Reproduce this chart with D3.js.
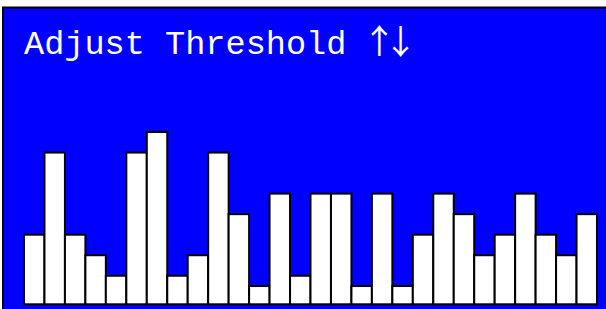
<!DOCTYPE html>
<html>
<head>
<meta charset="utf-8">
<script src="https://cdn.jsdelivr.net/npm/d3@7"></script>
<style>
  html, body { margin: 0; padding: 0; background: #fff; overflow: hidden; }
  svg { display: block; }
</style>
</head>
<body>
<script>
const titleWords = "Adjust Threshold ";
const titleArrows = "↑↓";
const categories = d3.range(1, 29).map(String);
const values = [4, 8, 4, 3, 2, 8, 9, 2, 3, 8, 5, 1.5, 6, 2, 6, 6, 1.5, 6, 1.5, 4, 6, 5, 3, 4, 6, 4, 3, 5];

const W = 606, H = 309;
const svg = d3.select("body").append("svg").attr("width", W).attr("height", H);

svg.append("rect")
  .attr("x", 3).attr("y", 7.5)
  .attr("width", 640).attr("height", 340)
  .attr("fill", "#0000ff")
  .attr("stroke", "#000").attr("stroke-width", 2);

const title = svg.append("text")
  .attr("x", 24).attr("y", 54)
  .attr("fill", "#fff")
  .attr("font-family", "'Courier New', Courier, 'Liberation Mono', monospace")
  .attr("font-size", 33.6);
title.append("tspan").text(titleWords);
title.append("tspan")
  .attr("font-family", "'Noto Sans CJK SC', 'DejaVu Sans', sans-serif")
  .attr("dx", -4)
  .attr("letter-spacing", -12.3)
  .text(titleArrows);

const x = d3.scaleBand().domain(categories).range([24, 597]).padding(0);
const y = d3.scaleLinear().domain([0.61, 10]).range([304.3, 111.5]);

svg.append("g").selectAll("rect")
  .data(values)
  .join("rect")
  .attr("x", (d, i) => x(categories[i]))
  .attr("y", d => y(d))
  .attr("width", x.bandwidth())
  .attr("height", d => y(0.61) - y(d))
  .attr("fill", "#fff")
  .attr("stroke", "#000")
  .attr("stroke-width", 2);
</script>
</body>
</html>
